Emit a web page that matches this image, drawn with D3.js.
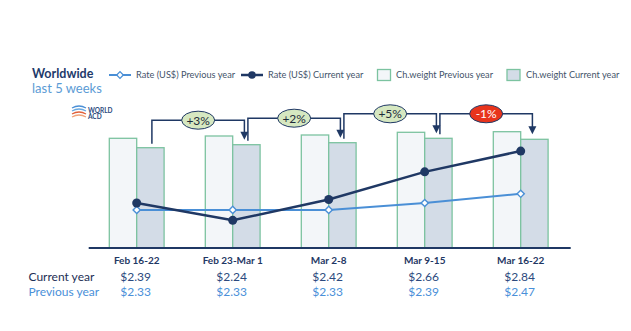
<!DOCTYPE html>
<html>
<head>
<meta charset="utf-8">
<script src="https://cdn.jsdelivr.net/npm/d3@7"></script>
<style>
  html, body { margin: 0; padding: 0; background: #ffffff; }
  svg { display: block; }
  text { font-family: Lato, "Open Sans", sans-serif; }
</style>
</head>
<body>
<svg id="chart" width="631" height="331"></svg>
<script>
// ---- data ----
const categories = ["Feb 16-22", "Feb 23-Mar 1", "Mar 2-8", "Mar 9-15", "Mar 16-22"];
const rateCurrent = [2.39, 2.24, 2.42, 2.66, 2.84];
const ratePrevious = [2.33, 2.33, 2.33, 2.39, 2.47];
const weightPrevious = [109.7, 112, 113, 115.7, 116.3];   // index (estimated)
const weightCurrent = [100.3, 103.3, 105.3, 109.7, 108.7]; // index (estimated)
const weekChanges = ["+3%", "+2%", "+5%", "-1%"];
const rateLabelsCurrent = ["$2.39", "$2.24", "$2.42", "$2.66", "$2.84"];
const rateLabelsPrevious = ["$2.33", "$2.33", "$2.33", "$2.39", "$2.47"];
const legendItems = ["Rate (US$) Previous year", "Rate (US$) Current year", "Ch.weight Previous year", "Ch.weight Current year"];

// ---- styles ----
const NAVY = "#1f3864";
const BLUE = "#4a8fd6";
const BAR_STROKE = "#7cc3a0";
const BAR_PREV = "#f3f6f9";
const BAR_CURR = "#d3dce7";

const svg = d3.select("#chart");

// ---- scales ----
const x0 = d3.scaleBand().domain(categories).range([88.7, 568.7]).padding(0);
const center = c => x0(c) + x0.bandwidth() / 2;
const barW = 27.4;
const x1 = d3.scaleBand().domain(["prev", "curr"]).range([-barW, barW]).padding(0);
const yW = d3.scaleLinear().domain([0, 150]).range([248, 98]);
const yR = d3.scaleLinear().domain([2.0, 3.3]).range([248, 98]);

// ---- bars ----
const barData = categories.map((c, i) => ({ c, prev: weightPrevious[i], curr: weightCurrent[i] }));
const g = svg.append("g");
const groups = g.selectAll("g.cat").data(barData).enter().append("g")
  .attr("transform", d => `translate(${center(d.c)},0)`);
groups.append("rect")
  .attr("x", x1("prev")).attr("width", x1.bandwidth())
  .attr("y", d => yW(d.prev)).attr("height", d => yW(0) - yW(d.prev))
  .attr("fill", BAR_PREV).attr("stroke", BAR_STROKE).attr("stroke-width", 1.3);
groups.append("rect")
  .attr("x", x1("curr")).attr("width", x1.bandwidth())
  .attr("y", d => yW(d.curr)).attr("height", d => yW(0) - yW(d.curr))
  .attr("fill", BAR_CURR).attr("stroke", BAR_STROKE).attr("stroke-width", 1.3);

// ---- axis ----
const axis = d3.axisBottom(x0).tickSize(0).tickPadding(6);
const axG = svg.append("g").attr("transform", `translate(0,${yW(0)})`).call(axis);
axG.select(".domain").attr("stroke", NAVY).attr("stroke-width", 2)
  .attr("d", `M${x0.range()[0]},0H${x0.range()[1] + 2}`);
axG.selectAll(".tick text")
  .attr("font-family", "Lato, sans-serif").attr("font-size", 10).attr("font-weight", 700)
  .attr("fill", NAVY).attr("dy", "0.95em");

// ---- lines ----
const lineGen = d3.line().x(d => center(d.c)).y(d => yR(d.v));
const prevPts = categories.map((c, i) => ({ c, v: ratePrevious[i] }));
const currPts = categories.map((c, i) => ({ c, v: rateCurrent[i] }));
svg.append("path").datum(prevPts).attr("d", lineGen)
  .attr("fill", "none").attr("stroke", BLUE).attr("stroke-width", 2);
svg.append("path").datum(currPts).attr("d", lineGen)
  .attr("fill", "none").attr("stroke", NAVY).attr("stroke-width", 2.5);
svg.selectAll("path.pm").data(prevPts).enter().append("path")
  .attr("d", d3.symbol().type(d3.symbolSquare).size(26))
  .attr("transform", d => `translate(${center(d.c)},${yR(d.v)}) rotate(45)`)
  .attr("fill", "#ffffff").attr("stroke", BLUE).attr("stroke-width", 1.4);
svg.selectAll("circle.cm").data(currPts).enter().append("circle")
  .attr("cx", d => center(d.c)).attr("cy", d => yR(d.v)).attr("r", 4.5)
  .attr("fill", NAVY);

// ---- week-over-week annotations ----
const ann = svg.append("g");
weekChanges.forEach((lab, i) => {
  const cA = center(categories[i]) + x1("curr") + barW / 2;
  const cB = center(categories[i + 1]) + x1("curr") + barW / 2;
  const sx = cA + 1.5, ex = cB - 2;
  const sy = yW(weightCurrent[i]) - 4;
  const tipY = yW(weightCurrent[i + 1]) - 5;
  const hy = Math.min(yW(weightCurrent[i]), yW(weightCurrent[i + 1])) - 24.5;
  ann.append("path")
    .attr("d", `M${sx},${sy}V${hy}H${ex}V${tipY - 7}`)
    .attr("fill", "none").attr("stroke", NAVY).attr("stroke-width", 1.5);
  ann.append("path")
    .attr("d", `M${ex - 4},${tipY - 8}L${ex + 4},${tipY - 8}L${ex},${tipY}Z`)
    .attr("fill", NAVY);
  const neg = lab.startsWith("-");
  const mx = (sx + ex) / 2;
  ann.append("ellipse").attr("cx", mx).attr("cy", hy).attr("rx", 16.5).attr("ry", 9)
    .attr("fill", neg ? "#e8341c" : "#d6e8c1").attr("stroke", NAVY).attr("stroke-width", 1);
  ann.append("text").attr("x", mx).attr("y", hy).attr("dy", "0.36em")
    .attr("text-anchor", "middle").attr("font-size", 12)
    .attr("fill", neg ? "#ffffff" : "#1e2b3a").text(lab);
});

// ---- title ----
svg.append("text").attr("x", 32).attr("y", 77.5).attr("font-size", 12.5).attr("font-weight", 700)
  .attr("fill", "#1e3a6a").text("Worldwide");
svg.append("text").attr("x", 32).attr("y", 92.5).attr("font-size", 13)
  .attr("fill", "#5b9bd5").text("last 5 weeks");

// ---- legend ----
const lg = svg.append("g").attr("font-size", 9.2).attr("fill", "#44546a");
// previous rate
lg.append("line").attr("x1", 109).attr("x2", 131).attr("y1", 75).attr("y2", 75)
  .attr("stroke", BLUE).attr("stroke-width", 2);
lg.append("path").attr("d", d3.symbol().type(d3.symbolSquare).size(22))
  .attr("transform", "translate(120,75) rotate(45)")
  .attr("fill", "#fff").attr("stroke", BLUE).attr("stroke-width", 1.3);
lg.append("text").attr("x", 136).attr("y", 78).text(legendItems[0]);
// current rate
lg.append("line").attr("x1", 241).attr("x2", 263).attr("y1", 75).attr("y2", 75)
  .attr("stroke", NAVY).attr("stroke-width", 2.5);
lg.append("circle").attr("cx", 252).attr("cy", 75).attr("r", 3.8).attr("fill", NAVY);
lg.append("text").attr("x", 268).attr("y", 78).text(legendItems[1]);
// weights
lg.append("rect").attr("x", 377.5).attr("y", 69.5).attr("width", 13).attr("height", 11)
  .attr("fill", BAR_PREV).attr("stroke", BAR_STROKE).attr("stroke-width", 1.3);
lg.append("text").attr("x", 396).attr("y", 78).text(legendItems[2]);
lg.append("rect").attr("x", 507).attr("y", 69.5).attr("width", 13).attr("height", 11)
  .attr("fill", BAR_CURR).attr("stroke", BAR_STROKE).attr("stroke-width", 1.3);
lg.append("text").attr("x", 526).attr("y", 78).text(legendItems[3]);

// ---- logo ----
const logo = svg.append("g").attr("transform", "translate(71,105)");
[["#4a8fd6", 0], ["#6aa9e0", 3], ["#e0603a", 6], ["#f1a37a", 9]].forEach(([col, dy]) => {
  logo.append("path").attr("d", `M1,${3 + dy} Q8,${-1 + dy} 15,${3 + dy}`)
    .attr("fill", "none").attr("stroke", col).attr("stroke-width", 1.3);
});
logo.append("text").attr("x", 17).attr("y", 7.5).attr("font-size", 6.5).attr("font-weight", 700)
  .attr("fill", "#2c4a7e").text("WORLD");
logo.append("text").attr("x", 17).attr("y", 13.5).attr("font-size", 6.5).attr("font-weight", 700)
  .attr("fill", "#2c4a7e").text("ACD");

// ---- table below ----
svg.append("text").attr("x", 28.5).attr("y", 280.5).attr("font-size", 12)
  .attr("fill", "#1e2f55").text("Current year");
svg.append("text").attr("x", 28.5).attr("y", 296).attr("font-size", 12)
  .attr("fill", "#4a90d9").text("Previous year");
svg.selectAll("text.vc").data(categories).enter().append("text")
  .attr("x", d => center(d) - 1).attr("y", 280.5).attr("text-anchor", "middle")
  .attr("font-size", 12).attr("fill", "#2c4a7e")
  .text((d, i) => rateLabelsCurrent[i]);
svg.selectAll("text.vp").data(categories).enter().append("text")
  .attr("x", d => center(d) - 1).attr("y", 296).attr("text-anchor", "middle")
  .attr("font-size", 12).attr("fill", "#4a90d9")
  .text((d, i) => rateLabelsPrevious[i]);
</script>
</body>
</html>
